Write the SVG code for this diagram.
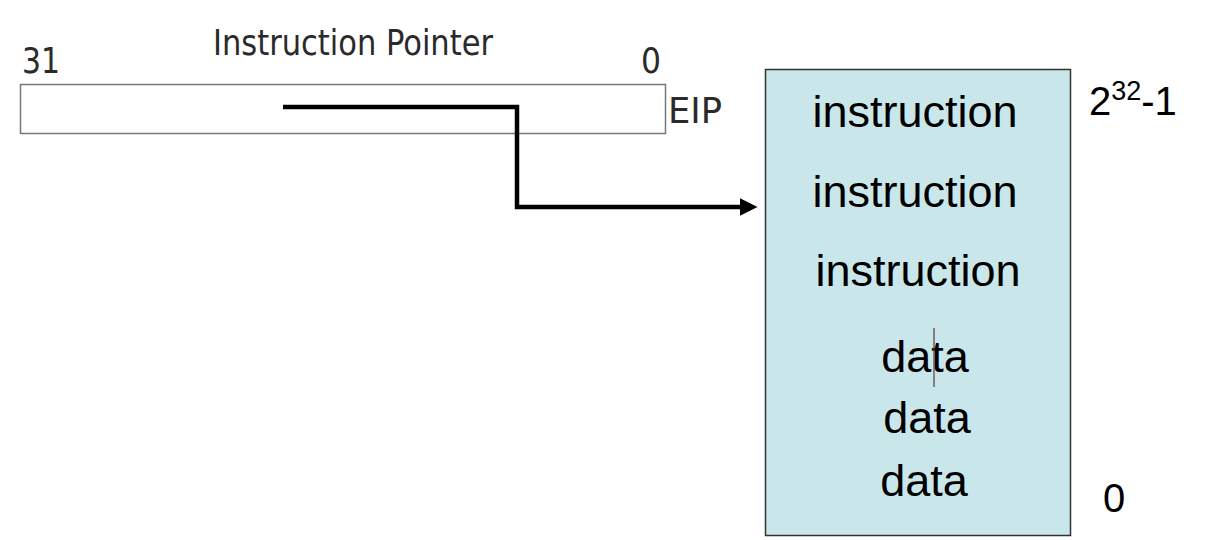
<svg xmlns="http://www.w3.org/2000/svg" width="1205" height="540" viewBox="0 0 1205 540">
<style>
.reg{font-family:"DejaVu Sans Condensed","DejaVu Sans","Liberation Sans",sans-serif;font-stretch:condensed;fill:#2a2a2a;font-size:36px}
.mem{font-family:"Liberation Sans",Arial,sans-serif;fill:#000;font-size:45px;text-anchor:middle}
.lbl{font-family:"Liberation Sans",Arial,sans-serif;fill:#000;font-size:40px}
</style>
<defs>
<marker id="ah" markerWidth="4" markerHeight="4" refX="1" refY="2" orient="auto" markerUnits="strokeWidth">
<path d="M0,0 L4,2 L0,4 z" fill="#000"/>
</marker>
</defs>
<rect width="1205" height="540" fill="#fff"/>
<g id="register">
<rect x="20.5" y="84.5" width="645" height="49" fill="#fff" stroke="#777" stroke-width="1.5"/>
<text class="reg" x="213" y="55" textLength="280" lengthAdjust="spacingAndGlyphs">Instruction Pointer</text>
<text class="reg" x="22" y="73" textLength="38" lengthAdjust="spacingAndGlyphs">31</text>
<text class="reg" x="641" y="73" textLength="20" lengthAdjust="spacingAndGlyphs">0</text>
<text class="reg" x="668" y="123" textLength="54" lengthAdjust="spacingAndGlyphs">EIP</text>
</g>
<g id="memory">
<rect x="765.5" y="69.5" width="305" height="466" fill="#c9e6ea" stroke="#333" stroke-width="1.5"/>
<text class="mem" x="915" y="127">instruction</text>
<text class="mem" x="915" y="207">instruction</text>
<text class="mem" x="918" y="286">instruction</text>
<text class="mem" x="925" y="372">data</text>
<text class="mem" x="927" y="433">data</text>
<text class="mem" x="924" y="496">data</text>
<line x1="934" y1="328" x2="934" y2="387" stroke="#5a3a3a" stroke-width="1.2"/>
<text class="lbl" x="1089" y="115">2<tspan font-size="27" dy="-15">32</tspan><tspan dy="15">-1</tspan></text>
<text class="lbl" x="1103" y="512">0</text>
</g>
<g id="connectors">
<path d="M283,107 H517 V207 H744" fill="none" stroke="#000" stroke-width="4.5" marker-end="url(#ah)"/>
</g>
</svg>
